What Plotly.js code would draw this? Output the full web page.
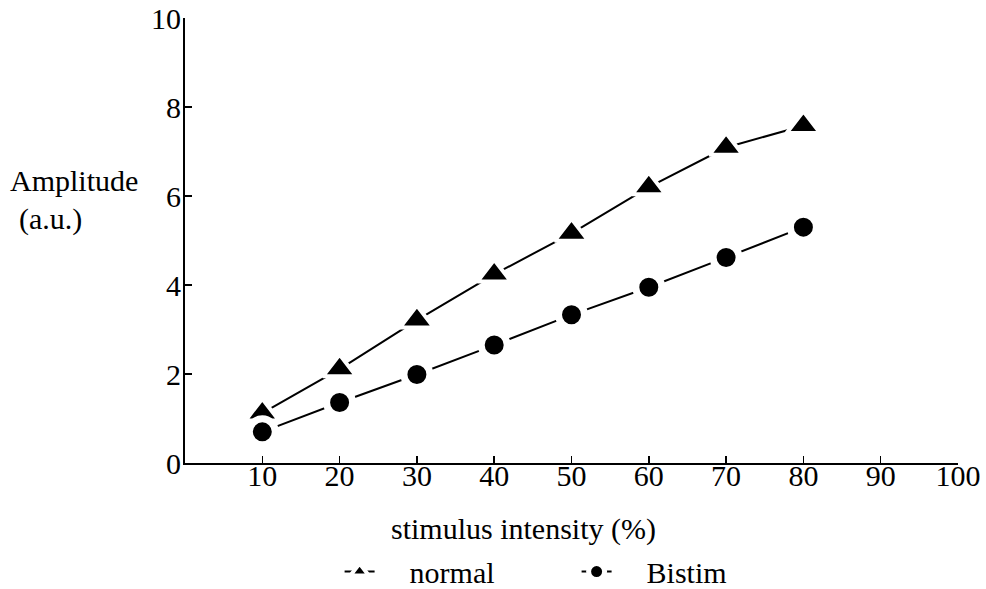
<!DOCTYPE html>
<html>
<head>
<meta charset="utf-8">
<script src="https://cdn.plot.ly/plotly-3.0.1.min.js"></script>
<style>html,body{margin:0;padding:0;background:#fff;}#chart{width:986px;height:589px;}</style>
</head>
<body>
<div id="chart"></div>
<script>
const intensity = [10, 20, 30, 40, 50, 60, 70, 80];
const normal = [1.12, 2.11, 3.21, 4.24, 5.16, 6.20, 7.09, 7.58];
const bistim = [0.70, 1.36, 1.99, 2.65, 3.33, 3.95, 4.62, 5.30];
const xTicks = [10, 20, 30, 40, 50, 60, 70, 80, 90, 100];
const yTicks = [0, 2, 4, 6, 8, 10];

const FONT = "'Liberation Serif', 'Times New Roman', serif";
const NB = '\u00a0';
const FS = 30;

const traces = [
  {
    x: intensity, y: normal, name: NB + NB + NB + NB + 'normal', mode: 'lines+markers',
    line: {color: '#000', width: 2},
    marker: {symbol: 'triangle-up', size: 29, color: '#000', line: {color: '#fff', width: 4}},
    cliponaxis: false
  },
  {
    x: intensity, y: bistim, name: NB + NB + NB + NB + 'Bistim', mode: 'lines+markers',
    line: {color: '#000', width: 2},
    marker: {symbol: 'circle', size: 26, color: '#000', line: {color: '#fff', width: 7}},
    cliponaxis: false
  }
];

const layout = {
  width: 986, height: 589,
  margin: {l: 185, r: 28, t: 18, b: 126, autoexpand: false},
  paper_bgcolor: '#fff', plot_bgcolor: '#fff',
  font: {family: FONT, size: FS, color: '#000'},
  showlegend: true,
  legend: {
    orientation: 'h', x: 0.2, xanchor: 'left', y: -0.244, yanchor: 'middle',
    font: {family: FONT, size: FS, color: '#000'},
    entrywidth: 192, entrywidthmode: 'pixels', bgcolor: 'rgba(0,0,0,0)'
  },
  xaxis: {
    range: [0, 100], tickvals: xTicks, ticktext: xTicks.map(String),
    showgrid: false, zeroline: false, showline: true, linecolor: '#000', linewidth: 2,
    ticks: 'inside', ticklen: 7, tickwidth: 1.5, tickcolor: '#000',
    tickfont: {family: FONT, size: FS, color: '#000'}, ticklabelstandoff: -15
  },
  yaxis: {
    range: [0, 10], tickvals: yTicks, ticktext: yTicks.map(String),
    showgrid: false, zeroline: false, showline: true, linecolor: '#000', linewidth: 2,
    ticks: 'inside', ticklen: 7, tickwidth: 1.5, tickcolor: '#000',
    tickfont: {family: FONT, size: FS, color: '#000'}, ticklabelstandoff: -4
  },
  annotations: [
    {text: 'Amplitude', xref: 'paper', yref: 'paper', x: -0.1436, y: 0.634, xanchor: 'center', yanchor: 'middle', showarrow: false, font: {family: FONT, size: FS, color: '#000'}},
    {text: '(a.u.)', xref: 'paper', yref: 'paper', x: -0.174, y: 0.548, xanchor: 'center', yanchor: 'middle', showarrow: false, font: {family: FONT, size: FS, color: '#000'}},
    {text: 'stimulus intensity (%)', xref: 'paper', yref: 'paper', x: 0.438, y: -0.148, xanchor: 'center', yanchor: 'middle', showarrow: false, font: {family: FONT, size: FS, color: '#000'}}
  ]
};

Plotly.newPlot('chart', traces, layout, {displayModeBar: false, staticPlot: true});
</script>
</body>
</html>
